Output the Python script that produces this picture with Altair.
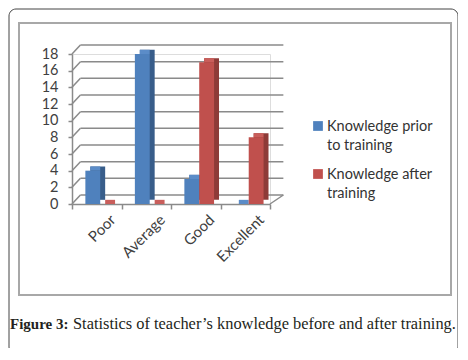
import json
import altair as alt
import pandas as pd

# ---- data ----
categories = ["Poor", "Average", "Good", "Excellent"]
series = ["Knowledge prior to training", "Knowledge after training"]
prior = [4, 18, 3, 0]
after = [0, 0, 17, 8]
y_ticks = [0, 2, 4, 6, 8, 10, 12, 14, 16, 18]
caption_bold = "Figure 3:"
caption_rest = "Statistics of teacher\u2019s knowledge before and after training."

front_colors = ["#4F81BD", "#C0504D"]
side_colors = ["#385D8A", "#8E3B38"]
top_colors = ["#5B8CC8", "#C95E5B"]

# ---- style constants (data units of the x/y scales) ----
BAR_START = [0.27, 0.57]
BAR_W = 0.30
DEPTH_X = 0.10
DEPTH_Y = 0.5
WALL_X0 = 0.17
WALL_X1 = 4.27
WALL_DY = 1.08
GRID = "#8a8a8a"
FONT = "Lato"

rows = []
for s_i, (s, vals) in enumerate(zip(series, [prior, after])):
    for c_i, (c, v) in enumerate(zip(categories, vals)):
        x0 = c_i + BAR_START[s_i]
        rows.append(dict(series=s, sidx=s_i, cat=c, value=v,
                         x0=x0, x1=x0 + BAR_W,
                         sx0=x0 + DEPTH_X, sx1=x0 + BAR_W + DEPTH_X,
                         sy0=DEPTH_Y, sy1=v + DEPTH_Y))
bars = pd.DataFrame(rows)

grid = pd.DataFrame({"v": y_ticks})
grid["vb"] = grid["v"] + WALL_DY
grid["wx0"] = WALL_X0
grid["wx1"] = WALL_X1
grid["zero"] = 0.0

cats = pd.DataFrame({"cat": categories, "xc": [i + 0.5 for i in range(len(categories))]})

xs = alt.Scale(domain=[0, len(categories)], nice=False, zero=False)
ys = alt.Scale(domain=[0, 18], nice=False)
XAX = alt.Axis(values=list(range(len(categories) + 1)), labels=False, title=None,
               grid=False, domain=True, domainColor=GRID, domainWidth=1.5,
               tickColor=GRID, tickWidth=1.5, tickSize=5)
YAX = alt.Axis(values=y_ticks, title=None, grid=False, domainColor=GRID,
               domainWidth=1.5, tickColor=GRID, tickWidth=1.5, tickSize=4,
               labelFont=FONT, labelFontSize=14.5, labelColor="#404040",
               labelPadding=10, labelOverlap=False)


def X(f, **kw):
    return alt.X(f, scale=xs, axis=XAX, **kw)


def Y(f, **kw):
    return alt.Y(f, scale=ys, axis=YAX, **kw)


# left side wall diagonals
diag = alt.Chart(grid).mark_rule(color=GRID, strokeWidth=1.5).encode(
    x=X("zero:Q"), x2="wx0:Q", y=Y("v:Q"), y2="vb:Q",
)
# back wall gridlines
wall = alt.Chart(grid).mark_rule(color=GRID, strokeWidth=1.5).encode(
    x=X("wx0:Q"), x2="wx1:Q", y=Y("vb:Q"),
)
floor_edge = alt.Chart(grid.head(1)).mark_rule(color=GRID, strokeWidth=1.5).encode(
    x=X("x:Q"), x2="x2:Q", y=Y("y:Q"), y2="y2:Q",
).transform_calculate(x=str(len(categories)), x2=str(WALL_X1), y="0", y2=str(WALL_DY))

bar_layers = []
for s_i, s in enumerate(series):
    base = alt.Chart(bars).transform_filter(alt.datum.sidx == s_i)
    side = base.mark_rect(color=side_colors[s_i]).encode(
        x=X("sx0:Q"), x2="sx1:Q", y=Y("sy0:Q"), y2="sy1:Q")
    top = base.mark_rect(color=top_colors[s_i]).encode(
        x=X("sx0:Q"), x2="x1:Q", y=Y("value:Q"), y2="sy1:Q")
    front = base.mark_rect(color=front_colors[s_i]).encode(
        x=X("x0:Q"), x2="x1:Q", y=Y("value:Q"), y2=alt.datum(0))
    bar_layers += [side, top, front]

cat_labels = alt.Chart(cats).mark_text(
    angle=315, align="right", baseline="middle", font=FONT, fontSize=15,
    color="#404040", dx=2, dy=21,
).encode(x=X("xc:Q"), y=Y("base:Q"), text="cat:N").transform_calculate(base="0")

# legend (manual)
leg = pd.DataFrame({"series": series, "i": [0, 1]})
leg["label"] = [" ".join(s.split()[:2]) + "\n" + " ".join(s.split()[2:]) for s in series]
leg["color"] = front_colors
leg["sy"] = 72 + leg["i"] * 48
leg["ty"] = 77 + leg["i"] * 48
leg_sq = alt.Chart(leg).mark_square(size=95, opacity=1).encode(
    x=alt.value(246), y=alt.Y("sy:Q", scale=None),
    color=alt.Color("color:N", scale=None))
leg_tx = alt.Chart(leg).mark_text(
    align="left", baseline="alphabetic", font=FONT, fontSize=14.5, lineHeight=19,
    lineBreak="\n", color="#333333",
).encode(x=alt.value(255), y=alt.Y("ty:Q", scale=None), text="label:N")

# frames
one = pd.DataFrame({"k": [0]})
outer = alt.Chart(one).mark_rect(
    fillOpacity=0, stroke="#444444", strokeWidth=1, cornerRadius=7,
).encode(x=alt.value(-63), x2=alt.value(386), y=alt.value(-45), y2=alt.value(300))
inner = alt.Chart(one).mark_rect(
    fillOpacity=0, stroke="#a8a8a8", strokeWidth=2,
).encode(x=alt.value(-53), x2=alt.value(379), y=alt.value(-31), y2=alt.value(241))

cap1 = alt.Chart(one).mark_text(
    align="left", baseline="alphabetic", font="Liberation Serif", fontSize=15,
    fontWeight="bold", color="#231f20",
).encode(x=alt.value(-62), y=alt.value(275), text=alt.value(caption_bold))
cap2 = alt.Chart(one).mark_text(
    align="left", baseline="alphabetic", font="Liberation Serif", fontSize=16.4,
    color="#231f20",
).encode(x=alt.value(1), y=alt.value(275), text=alt.value(caption_rest))

chart = alt.layer(
    outer, inner, diag, wall, floor_edge, *bar_layers, cat_labels, leg_sq, leg_tx,
    cap1, cap2
).properties(
    width=198, height=150,
    autosize=alt.AutoSizeParams(type="none"),
    padding={"left": 64, "top": 46, "right": 188, "bottom": 144},
).configure_view(stroke=None).configure(background="white").configure_axis(
    labelOverlap=False
)

chart.save("out.html", embed_options={"renderer": "svg", "actions": False})
